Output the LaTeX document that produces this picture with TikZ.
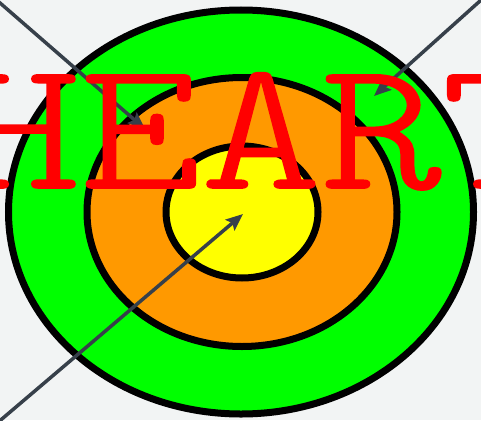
\documentclass[tikz,border=0pt]{standalone}
\usepackage{fontspec}
\usetikzlibrary{arrows.meta,shapes.geometric}
\newfontfamily\heartfont{Latin Modern Mono Light}[FakeBold=1]
\definecolor{bgc}{HTML}{F2F4F4}
\definecolor{ringgreen}{HTML}{00FF00}
\definecolor{ringorange}{HTML}{FF9900}
\definecolor{ringyellow}{HTML}{FFFF00}
\definecolor{arrowc}{HTML}{37404A}
\begin{document}
\begin{tikzpicture}[x=1pt,y=-1pt,
  ring/.style={ellipse,draw=black,line width=7pt,inner sep=0pt},
  pointer/.style={draw=arrowc,line width=3.5pt,-{Stealth[length=17pt,width=14pt,inset=3pt]}}]
\fill[bgc] (0,0) rectangle (481,420);
\useasboundingbox (0,0) rectangle (481,420);
\node[ring,fill=ringgreen,minimum width=465pt,minimum height=404pt] (outer) at (241,212) {};
\node[ring,fill=ringorange,minimum width=310pt,minimum height=269pt] (middle) at (242,212) {};
\node[ring,fill=ringyellow,minimum width=152pt,minimum height=132pt] (inner) at (242,212) {};
\coordinate (s1) at (-8,-4);
\coordinate (t1) at (145,129);
\coordinate (s2) at (490,-8);
\coordinate (t2) at (374,96);
\coordinate (s3) at (-4,424);
\coordinate (t3) at (243,214);
\draw[pointer] (s1) -- (t1);
\draw[pointer] (s2) -- (t2);
\draw[pointer] (s3) -- (t3);
\node[anchor=base,inner sep=0pt,text=red,xscale=1.24,font=\heartfont\fontsize{185}{185}\selectfont] (word) at (261,188) {HEART};
\end{tikzpicture}
\end{document}
